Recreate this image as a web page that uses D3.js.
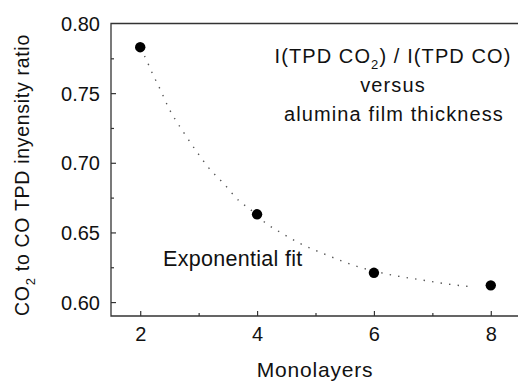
<!DOCTYPE html>
<html>
<head>
<meta charset="utf-8">
<script src="https://cdn.jsdelivr.net/npm/d3@7"></script>
<style>
  body { margin: 0; background: #fff; }
  text { font-family: "Liberation Sans", Arial, sans-serif; fill: #111; }
</style>
</head>
<body>
<div id="chart"></div>
<script>
// monolayers / ratio measured
const monolayers = [2, 4, 6, 8];
const ratio = [0.783, 0.663, 0.621, 0.612];

// exponential fit
const fitX = [2.0, 2.07, 2.21, 2.35, 2.48, 2.74, 2.95, 3.16, 3.43, 3.71, 3.87, 4.14, 4.44, 4.74, 5.18, 5.48, 5.76, 5.93, 6.36, 6.80, 7.25, 7.67];
const fitY = [0.782, 0.777, 0.764, 0.752, 0.740, 0.722, 0.709, 0.697, 0.685, 0.672, 0.667, 0.657, 0.649, 0.642, 0.634, 0.629, 0.625, 0.623, 0.619, 0.616, 0.613, 0.611];

const yTicks = [0.60, 0.65, 0.70, 0.75, 0.80];
const yMinor = [0.625, 0.675, 0.725, 0.775];
const xTicks = [2, 4, 6, 8];
const xMinor = [3, 5, 7];

const W = 518, H = 381;
const svg = d3.select("#chart").append("svg")
  .attr("width", W).attr("height", H);

const x = d3.scaleLinear().domain([1.5, 8.5]).range([111, 520]);
const y = d3.scaleLinear().domain([0.59, 0.80]).range([316, 23.5]);

const axisCol = "#333";

// cadre : haut, gauche, bas
svg.append("path")
  .attr("d", `M${x.range()[1]},${y(0.80)} H${x(1.5)} V${y(0.59)} H${x.range()[1]}`)
  .attr("fill", "none").attr("stroke", axisCol).attr("stroke-width", 1.3);

// ticks vers l'intérieur
const yAxis = d3.axisLeft(y).tickValues(yTicks).tickSize(-5).tickPadding(11)
  .tickFormat(d3.format(".2f"));
const gy = svg.append("g").attr("transform", `translate(${x(1.5)},0)`).call(yAxis);
gy.select(".domain").remove();
gy.selectAll("line").attr("stroke", axisCol).attr("stroke-width", 1.2);
gy.selectAll("text").style("font-size", "20px").attr("dy", "0.36em").attr("fill", "#111");
gy.selectAll(".tick").filter(d => d === 0.80).select("line").remove();

const gym = svg.append("g").attr("transform", `translate(${x(1.5)},0)`)
  .call(d3.axisLeft(y).tickValues(yMinor).tickSize(-3).tickFormat(""));
gym.select(".domain").remove();
gym.selectAll("line").attr("stroke", axisCol).attr("stroke-width", 1.2);

const xAxis = d3.axisBottom(x).tickValues(xTicks).tickSize(-5).tickPadding(11)
  .tickFormat(d3.format("d"));
const gx = svg.append("g").attr("transform", `translate(0,${y(0.59)})`).call(xAxis);
gx.select(".domain").remove();
gx.selectAll("line").attr("stroke", axisCol).attr("stroke-width", 1.2);
gx.selectAll("text").style("font-size", "20px").attr("fill", "#111");

const gxm = svg.append("g").attr("transform", `translate(0,${y(0.59)})`)
  .call(d3.axisBottom(x).tickValues(xMinor).tickSize(-3).tickFormat(""));
gxm.select(".domain").remove();
gxm.selectAll("line").attr("stroke", axisCol).attr("stroke-width", 1.2);

// courbe d'ajustement en pointillés
const fit = fitX.map((d, i) => [d, fitY[i]]);
svg.append("path")
  .datum(fit)
  .attr("d", d3.line().x(d => x(d[0])).y(d => y(d[1])).curve(d3.curveMonotoneX))
  .attr("fill", "none")
  .attr("stroke", "#555")
  .attr("stroke-width", 1.4)
  .attr("stroke-dasharray", "1.4,7.2");

// points
svg.selectAll("circle.pt")
  .data(monolayers)
  .join("circle")
  .attr("class", "pt")
  .attr("cx", d => x(d))
  .attr("cy", (d, i) => y(ratio[i]))
  .attr("r", 5.2)
  .attr("fill", "#000");

// titres
svg.append("text")
  .attr("x", 315).attr("y", 377)
  .attr("text-anchor", "middle")
  .style("font-size", "21px").style("letter-spacing", "0.8px")
  .text("Monolayers");

const yl = svg.append("text")
  .attr("transform", "translate(29,175) rotate(-90)")
  .attr("text-anchor", "middle")
  .style("font-size", "19.5px").style("letter-spacing", "0.7px");
yl.append("tspan").text("CO");
yl.append("tspan").attr("dy", 6).style("font-size", "13px").text("2");
yl.append("tspan").attr("dy", -6).text(" to CO TPD inyensity ratio");

// annotation
const ann = svg.append("g").style("font-size", "20px").style("letter-spacing", "1.1px");
const l1 = ann.append("text").attr("x", 393).attr("y", 63).attr("text-anchor", "middle");
l1.append("tspan").text("I(TPD CO");
l1.append("tspan").attr("dy", 6).style("font-size", "13px").text("2");
l1.append("tspan").attr("dy", -6).text(") / I(TPD CO)");
ann.append("text").attr("x", 393).attr("y", 92).attr("text-anchor", "middle").text("versus");
ann.append("text").attr("x", 394).attr("y", 120.5).attr("text-anchor", "middle").text("alumina film thickness");

svg.append("text")
  .attr("x", 163).attr("y", 266)
  .style("font-size", "21.5px").style("letter-spacing", "0.3px")
  .text("Exponential fit");
</script>
</body>
</html>
